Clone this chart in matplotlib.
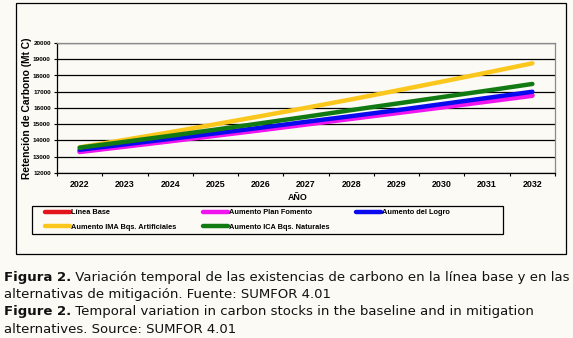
import matplotlib.pyplot as plt
from matplotlib.patches import Rectangle

years = [2022, 2023, 2024, 2025, 2026, 2027, 2028, 2029, 2030, 2031, 2032]

linea_base = [13330, 13660, 13990, 14330, 14670, 15030, 15380, 15730, 16080, 16440, 16800]
plan_fomento = [13290, 13620, 13950, 14290, 14630, 14980, 15330, 15680, 16030, 16390, 16750]
logro = [13430, 13760, 14100, 14440, 14790, 15150, 15500, 15860, 16240, 16620, 17000]
ima_artificiales = [13580, 14040, 14510, 15000, 15500, 16010, 16530, 17070, 17620, 18180, 18750]
ica_naturales = [13560, 13920, 14290, 14670, 15060, 15460, 15870, 16270, 16670, 17070, 17480]

series = [
    ("Línea Base", linea_base, "#e3141b"),
    ("Aumento Plan Fomento", plan_fomento, "#f014ee"),
    ("Aumento del Logro", logro, "#0a0aee"),
    ("Aumento IMA Bqs. Artificiales", ima_artificiales, "#fbc71c"),
    ("Aumento ICA Bqs. Naturales", ica_naturales, "#127a12"),
]

W, H = 573, 338
bg = "#fbfaf4"

plt.rcParams["font.family"] = ["Liberation Sans", "DejaVu Sans"]
fig = plt.figure(figsize=(W / 100, H / 100), dpi=100, facecolor=bg)


def px(x0, y0, x1, y1):
    # pixel box (top-left origin) -> figure fraction rect
    return [x0 / W, 1 - y1 / H, (x1 - x0) / W, (y1 - y0) / H]


def box(x0, y0, x1, y1):
    r = px(x0, y0, x1, y1)
    fig.patches.append(Rectangle((r[0], r[1]), r[2], r[3],
                                 transform=fig.transFigure, fill=False,
                                 edgecolor="black", linewidth=0.9))


# chart frame and legend frame
box(16, 3, 566, 254)
box(32, 206, 503, 234)

ax = fig.add_axes(px(57, 43, 555, 173))
ax.set_facecolor(bg)
xs = list(range(len(years)))
lines = {}
for name, vals, col in series:
    lines[name], = ax.plot(xs, vals, color=col, linewidth=3.2,
                           solid_capstyle="round", label=name, zorder=3)

ax.set_xlim(-0.5, len(years) - 0.5)
ax.set_ylim(12000, 20000)
ax.set_yticks(range(12000, 20001, 1000))
ax.set_yticklabels([str(v) for v in range(12000, 20001, 1000)],
                   fontsize=4.6, fontweight="bold")
ax.tick_params(axis="y", length=2.5, width=0.8, pad=2)
ax.set_xticks([x - 0.5 for x in range(len(years) + 1)])
ax.set_xticklabels([])
ax.set_xticks(xs, minor=True)
ax.set_xticklabels([str(y) for y in years], minor=True,
                   fontsize=6.4, fontweight="bold")
ax.tick_params(axis="x", which="major", length=2.5, width=0.8)
ax.tick_params(axis="x", which="minor", length=0, pad=5)
ax.grid(axis="y", color="black", linewidth=0.9, zorder=1)
for s in ("top", "right"):
    ax.spines[s].set_color("#8a8a8a")
    ax.spines[s].set_linewidth(0.9)
for s in ("left", "bottom"):
    ax.spines[s].set_linewidth(0.9)

ax.set_ylabel("Retención de Carbono (Mt C)", fontsize=7.4, fontweight="bold",
              labelpad=1)
fig.text(298 / W, 1 - 197 / H, "AÑO", fontsize=6.4, fontweight="bold",
         ha="center", va="center")

# legend filled column-wise -> reorder for row layout
order = ["Línea Base", "Aumento IMA Bqs. Artificiales", "Aumento Plan Fomento",
         "Aumento ICA Bqs. Naturales", "Aumento del Logro"]
leg = fig.legend([lines[n] for n in order], order, ncol=3, loc="upper left",
                 bbox_to_anchor=(43 / W, 1 - 207 / H), frameon=False,
                 borderaxespad=0, handlelength=3.4, handletextpad=0.15,
                 columnspacing=3.6, borderpad=0.3, labelspacing=0.95,
                 prop={"weight": "bold", "size": 5.3})

# caption
caption = [
    ("Figura 2.", " Variación temporal de las existencias de carbono en la línea base y en las"),
    ("", "alternativas de mitigación. Fuente: SUMFOR 4.01"),
    ("Figure 2.", " Temporal variation in carbon stocks in the baseline and in mitigation"),
    ("", "alternatives. Source: SUMFOR 4.01"),
]
fig.canvas.draw()
renderer = fig.canvas.get_renderer()
y = 277
for bold, rest in caption:
    x = 4 / W
    if bold:
        t = fig.text(x, 1 - y / H, bold, fontsize=9.5, fontweight="bold",
                     family="DejaVu Sans", va="center", color="#111111")
        bb = t.get_window_extent(renderer)
        x = bb.x1 / W
    fig.text(x, 1 - y / H, rest, fontsize=9.5, family="DejaVu Sans",
             va="center", color="#111111")
    y += 17.5

fig.savefig("out.png", dpi=100, facecolor=bg)
